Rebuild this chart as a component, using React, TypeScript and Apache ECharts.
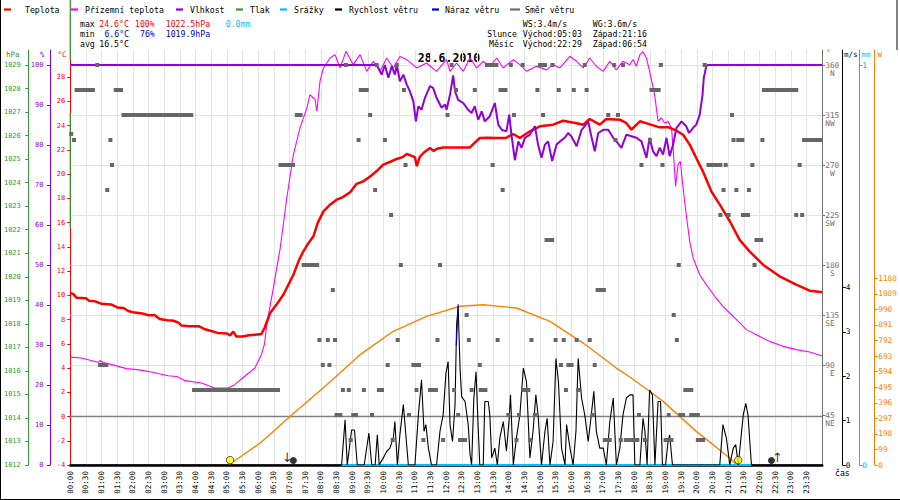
import React, { useEffect, useRef } from "react";
import * as echarts from "echarts";

const FONT = '"DejaVu Sans Mono", monospace';

// ---- axes ----
const X_MIN = 0;
const X_MAX = 24;
const X_STEP = 0.5;
const TEMP_RANGE = [-4, 30.24];
const HUM_RANGE = [0, 103.75];
const PRES_RANGE = [1012, 1029.64];
const DIR_RANGE = [0, 373.5];
const SPEED_RANGE = [0, 9.35];
const RAIN_RANGE = [0, 1.0375];
const RAD_RANGE = [0, 2641];

const TEMP_TICKS = [-4, -2, 0, 2, 4, 6, 8, 10, 12, 14, 16, 18, 20, 22, 24, 26, 28];
const HUM_TICKS = [0, 10, 20, 30, 40, 50, 60, 70, 80, 90, 100];
const PRES_TICKS = [1012, 1013, 1014, 1015, 1016, 1017, 1018, 1019, 1020, 1021, 1022, 1023, 1024, 1025, 1026, 1027, 1028, 1029];
const DIR_TICKS = [45, 90, 135, 180, 225, 270, 315, 360];
const DIR_NAMES = ["NE", "E", "SE", "S", "SW", "W", "NW", "N"];
const DIR_GRID = [90, 135, 180, 225, 270, 315, 360];
const SPEED_TICKS = [0, 1, 2, 3, 4];
const RAIN_TICKS = [0, 1];
const RAD_TICKS = [0, 99, 198, 297, 396, 495, 594, 693, 792, 891, 990, 1089, 1188];

// ---- data: [hour, value] ----
const teplota = [
  [0, 10.2], [0.1, 10.1], [0.2, 9.8], [0.5, 9.75], [0.6, 9.55], [0.8, 9.5], [1.0, 9.3], [1.3, 9.25], [1.5, 9.0],
  [1.7, 8.95], [1.85, 8.7], [2.0, 8.6], [2.3, 8.5], [2.5, 8.35], [2.7, 8.35], [2.85, 8.05], [3.1, 7.95], [3.3, 7.9],
  [3.45, 7.75], [3.55, 7.5], [3.8, 7.45], [4.1, 7.45], [4.3, 7.2], [4.5, 7.05], [4.7, 6.9], [5.0, 6.85], [5.1, 6.7],
  [5.2, 7.0], [5.3, 6.6], [5.5, 6.6], [5.7, 6.7], [5.9, 6.75], [6.1, 6.8], [6.2, 7.3], [6.3, 8.0], [6.38, 8.54],
  [6.6, 9.3], [6.8, 10.05], [7.12, 11.7], [7.3, 12.9], [7.44, 13.63], [7.6, 14.3], [7.76, 14.87], [7.9, 16.0],
  [8.08, 16.93], [8.3, 17.5], [8.5, 17.89], [8.7, 18.1], [8.93, 18.5], [9.14, 19.2], [9.35, 19.4], [9.57, 19.8],
  [9.8, 20.3], [9.99, 20.78], [10.2, 21.0], [10.42, 21.25], [10.6, 21.4], [10.74, 21.66], [10.9, 21.5], [11.0, 21.4],
  [11.06, 20.65], [11.15, 21.4], [11.27, 21.74], [11.48, 22.15], [11.6, 21.9], [11.7, 22.1], [11.9, 22.2],
  [12.44, 22.2], [12.76, 22.2], [12.86, 22.48], [13.07, 22.98], [13.3, 23.0], [13.6, 22.98], [13.9, 22.98],
  [14.14, 23.31], [14.35, 22.98], [14.67, 23.53], [14.99, 23.94], [15.41, 24.08], [15.73, 24.4], [16.16, 24.2],
  [16.37, 24.08], [16.58, 24.55], [16.9, 24.08], [17.11, 24.55], [17.54, 24.49], [17.75, 24.2], [17.91, 23.67],
  [18.18, 24.36], [18.5, 24.1], [18.81, 23.86], [19.1, 23.86], [19.35, 23.58], [19.56, 23.25], [19.77, 22.43],
  [19.98, 21.33], [20.19, 20.23], [20.46, 18.58], [20.73, 17.48], [21.05, 16.11], [21.36, 14.59], [21.68, 13.63],
  [22.11, 12.53], [22.64, 11.57], [23.17, 10.88], [23.6, 10.38], [24, 10.25],
];

const prizemni = [
  [0, 4.9], [0.36, 4.83], [0.7, 4.6], [0.89, 4.47], [0.95, 4.62], [1.05, 4.45], [1.32, 4.28], [1.8, 3.95], [2.2, 3.85],
  [2.59, 3.67], [3.12, 3.37], [3.4, 3.3], [3.66, 2.96], [4.19, 2.77], [4.61, 2.35], [5.04, 2.35], [5.25, 2.63],
  [5.57, 3.32], [5.89, 4.0], [6.1, 5.1], [6.2, 6.0], [6.27, 7.57], [6.48, 10.6], [6.7, 13.9], [6.91, 18.03],
  [7.12, 21.6], [7.33, 23.8], [7.55, 25.45], [7.65, 26.55], [7.75, 26.3], [7.81, 26.2], [7.87, 25.2], [7.97, 27.66],
  [8.08, 28.76], [8.29, 29.58], [8.45, 29.86], [8.61, 28.76], [8.8, 30.13], [9.03, 29.03], [9.25, 29.86], [9.46, 28.48],
  [9.67, 29.31], [9.89, 28.48], [10.1, 29.58], [10.31, 28.76], [10.52, 29.7], [10.74, 29.45], [11.06, 28.76],
  [11.37, 29.17], [11.69, 28.48], [12.01, 29.45], [12.12, 28.48], [12.33, 29.17], [12.54, 28.48], [12.76, 29.58],
  [12.97, 28.76], [13.18, 29.31], [13.39, 28.9], [13.61, 29.58], [13.82, 28.76], [14.14, 29.45], [14.35, 29.03],
  [14.56, 28.48], [14.88, 28.9], [15.2, 28.6], [15.41, 29.03], [15.63, 28.76], [15.94, 29.72], [16.16, 29.31],
  [16.37, 28.76], [16.58, 29.58], [16.79, 28.9], [17.01, 28.48], [17.22, 29.31], [17.43, 28.6], [17.64, 29.31],
  [17.86, 29.03], [17.96, 29.45], [18.07, 28.9], [18.18, 29.86], [18.28, 30.1], [18.39, 29.58], [18.49, 28.48],
  [18.65, 26.56], [18.76, 24.36], [18.87, 24.63], [18.97, 24.22], [19.08, 24.33], [19.19, 23.8], [19.24, 22.16],
  [19.32, 18.99], [19.4, 20.78], [19.47, 21.06], [19.56, 18.85], [19.66, 16.65], [19.77, 14.45], [19.88, 13.08],
  [20.09, 11.7], [20.3, 10.88], [20.57, 9.92], [20.83, 9.09], [21.05, 8.54], [21.37, 7.72], [21.58, 7.17],
  [21.9, 6.75], [22.32, 6.2], [22.75, 5.79], [23.18, 5.52], [23.6, 5.32], [24, 5.0],
];

const vlhkost = [
  [0, 100], [9.78, 100], [9.83, 99.3], [9.94, 97.6], [10.04, 100], [10.15, 96.8], [10.26, 99.7], [10.36, 97.6],
  [10.42, 100], [10.52, 95.9], [10.63, 97.6], [10.74, 95.1], [10.84, 93.4], [10.95, 90.9], [11.03, 85.9],
  [11.11, 89.7], [11.21, 88.8], [11.32, 91.8], [11.48, 94.7], [11.58, 94.3], [11.69, 91.8], [11.85, 89.3],
  [11.96, 90.1], [12.01, 88.8], [12.12, 92.6], [12.22, 97.4], [12.28, 93.4], [12.38, 91.3], [12.54, 90.5],
  [12.7, 88.8], [12.81, 88.0], [12.91, 89.7], [13.02, 86.3], [13.13, 88.4], [13.23, 85.9], [13.39, 87.2],
  [13.55, 90.5], [13.66, 85.1], [13.77, 83.8], [13.92, 83.4], [14.01, 87.6], [14.08, 82.6], [14.19, 76.2],
  [14.3, 80.9], [14.4, 79.3], [14.51, 81.8], [14.67, 82.6], [14.83, 84.7], [14.93, 80.1], [15.04, 76.8],
  [15.15, 80.1], [15.25, 80.9], [15.38, 76.0], [15.52, 80.1], [15.63, 80.9], [15.78, 81.8], [15.89, 83.0],
  [15.99, 82.2], [16.16, 79.7], [16.32, 83.8], [16.42, 84.7], [16.53, 85.9], [16.63, 82.2], [16.74, 78.4],
  [16.85, 83.0], [17.01, 83.8], [17.17, 83.8], [17.33, 81.8], [17.43, 80.9], [17.59, 79.3], [17.75, 82.6],
  [17.91, 82.2], [18.07, 81.8], [18.23, 80.9], [18.39, 76.8], [18.49, 81.8], [18.6, 78.4], [18.71, 77.2],
  [18.81, 79.3], [18.92, 77.6], [19.03, 81.8], [19.13, 77.2], [19.24, 80.1], [19.35, 84.3], [19.51, 85.9],
  [19.66, 84.7], [19.75, 83.0], [19.88, 84.3], [19.98, 85.1], [20.09, 87.6], [20.18, 92.6], [20.22, 96.8],
  [20.3, 99.7], [20.35, 100], [24, 100],
];

// pressure traces as recorded (vertical strokes at the start of the day)
const tlakA = [[0, 1031.76], [0, 1029.21]];
const tlakB = [[0, 1026.96], [0, 1022.07]];

const srazky = [[8.66, 0], [21.74, 0]];

const rychlost = [
  [0, 0], [8.66, 0], [8.77, 1.02], [8.84, 0], [8.98, 0.79], [9.07, 0.79], [9.16, 0], [9.38, 0], [9.53, 0.72],
  [9.62, 0], [9.73, 0], [9.8, 0.68], [9.86, 0], [9.99, 0.16], [10.1, 0.31], [10.2, 0.38], [10.31, 0.61],
  [10.36, 0.98], [10.44, 0], [10.52, 0.68], [10.63, 1.36], [10.7, 0.76], [10.79, 0], [11.0, 0], [11.11, 1.13],
  [11.21, 1.92], [11.29, 0.76], [11.35, 0.91], [11.43, 0.38], [11.53, 0], [11.69, 0], [11.8, 0.76], [11.9, 1.13],
  [11.99, 2.07], [12.06, 2.33], [12.12, 0.91], [12.2, 0.53], [12.28, 1.36], [12.33, 3.15], [12.38, 3.57],
  [12.44, 2.18], [12.49, 1.54], [12.6, 1.43], [12.7, 0.91], [12.76, 0.23], [12.81, 0], [12.88, 1.51], [12.95, 2.1],
  [13.02, 0.83], [13.07, 0], [13.18, 0], [13.23, 1.43], [13.34, 1.43], [13.39, 1.13], [13.45, 0.16], [13.55, 0.38],
  [13.63, 0], [13.71, 0.61], [13.82, 0.98], [13.92, 0.31], [14.01, 1.05], [14.05, 1.58], [14.14, 0], [14.24, 0.61],
  [14.35, 1.13], [14.46, 2.18], [14.56, 1.88], [14.67, 0.16], [14.77, 0.76], [14.86, 1.58], [14.93, 1.13],
  [15.04, 0], [15.15, 0.76], [15.22, 1.05], [15.31, 0], [15.41, 0.53], [15.5, 2.4], [15.58, 1.88], [15.68, 0.38],
  [15.79, 0], [15.84, 0.91], [15.95, 0.38], [16.05, 0], [16.14, 0.76], [16.21, 2.4], [16.32, 1.51], [16.42, 1.13],
  [16.53, 0.53], [16.63, 1.13], [16.71, 1.66], [16.79, 0.76], [16.9, 0.38], [17.01, 0.38], [17.11, 0],
  [17.22, 0.98], [17.33, 1.51], [17.43, 0], [17.54, 0.38], [17.64, 1.13], [17.75, 1.51], [17.86, 1.58],
  [17.96, 1.58], [18.02, 0], [18.18, 0], [18.28, 1.05], [18.34, 0.76], [18.41, 0], [18.49, 1.69], [18.58, 1.58],
  [18.66, 0], [18.76, 1.43], [18.84, 1.43], [18.9, 0], [19.0, 0], [19.08, 0.53], [19.13, 0.68], [19.22, 0],
  [20.73, 0], [20.83, 0.91], [20.94, 0.61], [21.05, 0], [21.16, 0.38], [21.24, 0.46], [21.32, 0], [21.48, 1.13],
  [21.56, 1.39], [21.63, 1.13], [21.74, 0], [24, 0],
];

const naraz = [[12.32, 2.7], [12.36, 3.3], [12.38, 3.62]];

const zareni = [
  [5.05, 0], [5.5, 62], [6.06, 140], [6.31, 183], [7.02, 310], [8.19, 511], [9.25, 702], [10.31, 851],
  [11.37, 946], [12.44, 1010], [13.18, 1020], [14.24, 999], [15.31, 914], [16.37, 776], [17.43, 617],
  [17.86, 560], [18.49, 469], [18.92, 405], [19.98, 214], [21.05, 45], [21.27, 0],
];

// wind direction runs: [from hour, to hour, degrees]
const smer = [
  [0.03, 0.03, 298], [0.12, 0.12, 292.5], [0.2, 0.72, 337.5], [0.86, 0.86, 360], [0.95, 1.15, 90], [1.18, 1.18, 247.5],
  [1.28, 1.28, 292.5], [1.33, 1.33, 270], [1.45, 1.62, 337.5], [1.7, 3.86, 315], [3.95, 6.63, 67.5],
  [6.71, 7.11, 270], [7.23, 7.35, 315], [7.45, 7.88, 180], [7.95, 7.95, 112.5], [8.06, 8.06, 90], [8.22, 8.22, 112.5],
  [8.27, 8.27, 90], [8.38, 8.38, 157.5], [8.45, 8.45, 112.5], [8.5, 8.62, 45], [8.7, 8.7, 67.5], [8.8, 8.8, 360],
  [8.89, 8.89, 67.5], [8.95, 8.95, 22.5], [9.03, 9.12, 45], [9.2, 9.2, 292.5], [9.27, 9.46, 337.5], [9.37, 9.37, 67.5],
  [9.57, 9.57, 315], [9.63, 9.63, 45], [9.73, 9.73, 247.5], [9.78, 9.78, 360], [9.85, 9.95, 67.5], [10.04, 10.04, 292.5],
  [10.13, 10.13, 90], [10.24, 10.24, 225], [10.29, 10.29, 22.5], [10.42, 10.42, 360], [10.45, 10.45, 112.5],
  [10.55, 10.55, 180], [10.65, 10.65, 337.5], [10.7, 10.7, 270], [10.81, 10.81, 45], [10.95, 11.13, 90],
  [11.05, 11.05, 67.5], [11.27, 11.27, 22.5], [11.48, 11.67, 67.5], [11.72, 11.72, 112.5], [11.8, 11.8, 180],
  [11.9, 11.9, 22.5], [12.04, 12.04, 315], [12.17, 12.17, 360], [12.25, 12.25, 67.5], [12.31, 12.31, 337.5],
  [12.38, 12.38, 45], [12.44, 12.6, 22.5], [12.65, 12.65, 135], [12.72, 12.72, 112.5], [12.81, 12.81, 67.5],
  [12.91, 12.91, 337.5], [13.07, 13.07, 90], [13.1, 13.25, 67.5], [13.3, 13.6, 360], [13.48, 13.48, 270],
  [13.64, 13.64, 112.5], [13.73, 13.89, 337.5], [13.8, 13.8, 247.5], [13.98, 13.98, 45], [14.06, 14.06, 360],
  [14.16, 14.16, 315], [14.24, 14.24, 22.5], [14.32, 14.32, 45], [14.44, 14.44, 360], [14.46, 14.62, 67.5],
  [14.67, 14.67, 22.5], [14.72, 14.72, 112.5], [14.83, 14.83, 45], [14.91, 14.91, 337.5], [14.99, 15.15, 360],
  [15.09, 15.09, 315], [15.2, 15.38, 202.5], [15.39, 15.39, 360], [15.49, 15.49, 112.5], [15.59, 15.59, 337.5],
  [15.66, 15.66, 90], [15.75, 15.75, 112.5], [15.82, 15.82, 67.5], [15.9, 16.0, 90], [16.07, 16.07, 337.5],
  [16.16, 16.16, 112.5], [16.21, 16.21, 67.5], [16.42, 16.42, 360], [16.48, 16.48, 337.5], [16.58, 16.58, 112.5],
  [16.67, 16.67, 45], [16.74, 16.74, 90], [16.83, 17.03, 157.5], [17.06, 17.22, 22.5], [17.17, 17.17, 315],
  [17.36, 17.36, 360], [17.4, 17.4, 292.5], [17.48, 17.48, 315], [17.57, 17.57, 22.5], [17.64, 17.64, 360],
  [17.73, 18.1, 22.5], [18.15, 18.15, 45], [18.23, 18.23, 270], [18.34, 18.34, 22.5], [18.5, 18.5, 292.5],
  [18.55, 18.78, 337.5], [18.85, 18.85, 360], [18.9, 18.9, 270], [19.0, 19.19, 22.5], [19.1, 19.1, 45],
  [19.26, 19.26, 135], [19.36, 19.36, 112.5], [19.42, 19.42, 180], [19.47, 19.56, 45], [19.63, 19.82, 67.5],
  [19.82, 20.03, 45], [20.03, 20.2, 22.5], [20.25, 20.25, 360], [20.37, 20.75, 270], [20.75, 20.75, 225],
  [20.85, 20.85, 247.5], [20.92, 20.92, 270], [21.01, 21.01, 225], [21.12, 21.12, 315], [21.17, 21.17, 292.5],
  [21.26, 21.26, 247.5], [21.32, 21.45, 292.5], [21.47, 21.63, 225], [21.66, 21.66, 247.5], [21.77, 21.77, 270],
  [21.84, 21.84, 180], [21.9, 22.05, 202.5], [22.09, 22.09, 292.5], [22.14, 23.17, 337.5], [23.17, 23.17, 225],
  [23.28, 23.28, 270], [23.36, 23.36, 225], [23.42, 23.95, 292.5],
];

const slunce = [[5.1, 0.11], [21.32, 0.11]];
const mesic = [[7.12, 0.1], [22.38, 0.1]];
const mesicZapad = [[6.92, 0.18]];
const mesicVychod = [[22.57, 0.18]];

// ---- legend / header texts ----
const LEGEND_NAMES = ["Teplota", "Přízemní teplota", "Vlhkost", "Tlak", "Srážky", "Rychlost větru", "Náraz větru", "Směr větru"];
const LEGEND_COLORS = ["#ff0000", "#ff00ff", "#9400d3", "#339933", "#00bfff", "#000000", "#0000cc", "#707070"];
const LEGEND_TEXT_X = [25, 85, 190, 250, 294, 349, 445, 525];
const LEGEND_DASH_X = [4, 71, 176, 236, 280, 335, 432, 510];
const LEGEND_DASH_W = [7, 7, 7, 7, 7, 7, 7, 10];

const pad2 = (n: number) => (n < 10 ? "0" + n : "" + n);

function buildOption() {
  const t = (x: number, y: number, text: string, fill: string, size = 8.2, weight = "normal", align = "left") => ({
    type: "text",
    x,
    y,
    silent: true,
    style: { text, fill, fontSize: size, fontFamily: FONT, fontWeight: weight, verticalAlign: "middle", align },
  });
  const ln = (x1: number, y1: number, x2: number, y2: number, stroke: string, w = 1) => ({
    type: "line",
    silent: true,
    shape: { x1, y1, x2, y2 },
    style: { stroke, lineWidth: w },
  });

  const graphics: any[] = [];
  LEGEND_NAMES.forEach((name, i) => {
    graphics.push(ln(LEGEND_DASH_X[i], 9.5, LEGEND_DASH_X[i] + LEGEND_DASH_W[i], 9.5, LEGEND_COLORS[i], 2.2));
    graphics.push(t(LEGEND_TEXT_X[i], 9.5, name, "#000"));
  });
  // stats
  graphics.push(t(80, 24, "max", "#000"), t(99.3, 24, "24.6°C", "#ff0000"), t(135, 24, "100%", "#ff0000"),
    t(165.7, 24, "1022.5hPa", "#ff0000"), t(225.7, 24, "0.0mm", "#00bfff"));
  graphics.push(t(80, 34, "min", "#000"), t(104.4, 34, "6.6°C", "#0000cc"), t(140, 34, "76%", "#0000cc"),
    t(165.7, 34, "1019.9hPa", "#0000cc"));
  graphics.push(t(80, 44, "avg", "#000"), t(99.3, 44, "16.5°C", "#000"));
  graphics.push(t(522.7, 24, "WS:3.4m/s", "#000"), t(592.7, 24, "WG:3.6m/s", "#000"));
  graphics.push(t(487.3, 34, "Slunce", "#000"), t(522.7, 34, "Východ:05:03", "#000"), t(592.7, 34, "Západ:21:16", "#000"));
  graphics.push(t(489, 44, "Měsíc", "#000"), t(522.7, 44, "Východ:22:29", "#000"), t(592.7, 44, "Západ:06:54", "#000"));
  graphics.push(t(449, 57.5, "28.6.2010", "#000", 11.5, "bold", "center"));
  // units
  graphics.push(t(6, 54, "hPa", "#339933", 7.5), t(40, 54, "%", "#9400d3", 7.5), t(57.5, 54, "°C", "#ff0000", 7.5));
  graphics.push(t(826, 52, "°", "#707070", 7.5), t(844, 54, "m/s", "#000", 7.5), t(861.5, 54, "mm", "#00bfff", 7.5),
    t(877.5, 54, "W", "#ff8000", 7.5));
  graphics.push(t(835, 473, "čas", "#000", 8.2));
  // frame
  graphics.push(ln(0.5, 0, 0.5, 500, "#000", 1), ln(0, 499.5, 900, 499.5, "#000", 1), ln(897, 0, 897, 50, "#000", 1));

  const yAx = (o: any) => ({
    type: "value",
    min: o.range[0],
    max: o.range[1],
    position: o.position,
    offset: o.offset,
    splitLine: { show: false },
    axisLine: { show: true, onZero: false, lineStyle: { color: o.color, width: 1 } },
    axisTick: { show: true, length: 3, lineStyle: { color: o.color }, customValues: o.ticks },
    axisLabel: {
      customValues: o.ticks,
      color: o.color,
      fontSize: o.fontSize || 7,
      fontFamily: FONT,
      margin: o.margin,
      formatter: o.formatter || ((v: number) => String(v)),
      lineHeight: o.lineHeight,
      align: o.align,
    },
  });

  return {
    animation: false,
    backgroundColor: "#ffffff",
    textStyle: { fontFamily: FONT },
    grid: { left: 70.3, right: 77.2, top: 50, bottom: 35, containLabel: false },
    xAxis: {
      type: "value",
      min: X_MIN,
      max: X_MAX,
      interval: X_STEP,
      axisLine: { show: true, onZero: false, lineStyle: { color: "#000", width: 2.5 } },
      axisTick: { show: false },
      splitLine: { show: true, lineStyle: { color: "#e3e3e3", width: 1 } },
      axisLabel: {
        rotate: 90,
        margin: 6,
        fontSize: 7.6,
        fontFamily: FONT,
        color: "#000",
        hideOverlap: false,
        formatter: (v: number) => {
          if (v >= 24) return "";
          const h = Math.floor(v);
          const m = Math.round((v - h) * 60);
          return pad2(h) + ":" + pad2(m);
        },
      },
    },
    yAxis: [
      yAx({ range: TEMP_RANGE, position: "left", offset: 0, color: "#ff0000", ticks: TEMP_TICKS, margin: 5 }),
      yAx({ range: HUM_RANGE, position: "left", offset: 20.3, color: "#9400d3", ticks: HUM_TICKS, margin: 6.5 }),
      yAx({ range: PRES_RANGE, position: "left", offset: 42, color: "#339933", ticks: PRES_TICKS, margin: 7.5 }),
      yAx({
        range: DIR_RANGE, position: "right", offset: 0, color: "#707070", ticks: DIR_TICKS, margin: 3,
        fontSize: 7.8, lineHeight: 8.3, align: "left",
        formatter: (v: number) => {
          const i = DIR_TICKS.indexOf(v);
          const nm = i >= 0 ? DIR_NAMES[i] : "";
          return "\n" + v + "\n" + (nm.length < 2 ? " " + nm : nm);
        },
      }),
      yAx({ range: SPEED_RANGE, position: "right", offset: 20.5, color: "#000000", ticks: SPEED_TICKS, margin: 3, fontSize: 7.8 }),
      yAx({ range: RAIN_RANGE, position: "right", offset: 37.5, color: "#00bfff", ticks: RAIN_TICKS, margin: 2.5, fontSize: 7.8 }),
      yAx({ range: RAD_RANGE, position: "right", offset: 52.5, color: "#ff8000", ticks: RAD_TICKS, margin: 3.5, fontSize: 7.8 }),
    ],
    graphic: graphics,
    series: [
      {
        name: "dirGrid",
        type: "line",
        yAxisIndex: 3,
        data: [[0, 0]],
        symbol: "none",
        lineStyle: { opacity: 0 },
        silent: true,
        markLine: {
          silent: true,
          z: 1,
          symbol: ["none", "none"],
          label: { show: false },
          lineStyle: { color: "#e3e3e3", width: 1, type: "solid" },
          data: DIR_GRID.map((v) => ({ yAxis: v })),
        },
      },
      {
        name: "zeroLine",
        type: "line",
        yAxisIndex: 0,
        data: [[0, 0]],
        symbol: "none",
        lineStyle: { opacity: 0 },
        silent: true,
        markLine: {
          silent: true,
          z: 1,
          symbol: ["none", "none"],
          label: { show: false },
          lineStyle: { color: "#808080", width: 1.3, type: "solid" },
          data: [{ yAxis: 0 }],
        },
      },
      { name: "Záření", type: "line", yAxisIndex: 6, data: zareni, symbol: "none", lineStyle: { color: "#ff8000", width: 1.4 }, z: 2 },
      { name: "Srážky", type: "line", yAxisIndex: 5, data: srazky, symbol: "none", lineStyle: { color: "#00bfff", width: 2 }, z: 2 },
      { name: "Rychlost větru", type: "line", yAxisIndex: 4, data: rychlost, symbol: "none", lineStyle: { color: "#000", width: 1.1 }, z: 3 },
      { name: "Náraz větru", type: "line", yAxisIndex: 4, data: naraz, symbol: "none", lineStyle: { color: "#0000cc", width: 1.2 }, z: 3 },
      { name: "Přízemní teplota", type: "line", yAxisIndex: 0, data: prizemni, symbol: "none", lineStyle: { color: "#ff00ff", width: 1.1 }, z: 3 },
      { name: "Teplota", type: "line", yAxisIndex: 0, data: teplota, symbol: "none", lineStyle: { color: "#ff0000", width: 2.5 }, z: 4 },
      { name: "Vlhkost", type: "line", yAxisIndex: 1, data: vlhkost, symbol: "none", lineStyle: { color: "#9400d3", width: 2 }, z: 5 },
      { name: "Tlak", type: "line", yAxisIndex: 2, data: tlakA, symbol: "none", clip: false, lineStyle: { color: "#339933", width: 1.3 }, z: 6 },
      { name: "Tlak", type: "line", yAxisIndex: 2, data: tlakB, symbol: "none", clip: false, lineStyle: { color: "#339933", width: 1.3 }, z: 6 },
      {
        name: "Směr větru",
        type: "custom",
        yAxisIndex: 3,
        data: smer,
        encode: { x: [0, 1], y: 2 },
        z: 7,
        renderItem: (params: any, api: any) => {
          const a = api.coord([api.value(0), api.value(2)]);
          const b = api.coord([api.value(1), api.value(2)]);
          return {
            type: "rect",
            shape: { x: a[0] - 2, y: a[1] - 2, width: b[0] - a[0] + 4, height: 4 },
            style: { fill: "#666666" },
          };
        },
      },
      {
        name: "Slunce",
        type: "scatter",
        yAxisIndex: 4,
        data: slunce,
        symbol: "circle",
        symbolSize: 7.5,
        itemStyle: { color: "#ffff00", borderColor: "#000", borderWidth: 0.8 },
        z: 8,
      },
      {
        name: "Měsíc",
        type: "scatter",
        yAxisIndex: 4,
        data: mesic,
        symbol: "circle",
        symbolSize: 7,
        itemStyle: { color: "#000" },
        z: 8,
      },
      {
        name: "Měsíc západ",
        type: "scatter",
        yAxisIndex: 4,
        data: mesicZapad,
        symbolSize: 1,
        itemStyle: { color: "rgba(0,0,0,0)" },
        label: { show: true, position: "inside", formatter: "↓", fontSize: 13, color: "#000", fontFamily: "DejaVu Sans" },
        z: 8,
      },
      {
        name: "Měsíc východ",
        type: "scatter",
        yAxisIndex: 4,
        data: mesicVychod,
        symbolSize: 1,
        itemStyle: { color: "rgba(0,0,0,0)" },
        label: { show: true, position: "inside", formatter: "↑", fontSize: 13, color: "#000", fontFamily: "DejaVu Sans" },
        z: 8,
      },
    ],
  };
}

export default function App() {
  const ref = useRef<HTMLDivElement>(null);
  useEffect(() => {
    if (!ref.current) return;
    const chart = echarts.init(ref.current, null, { renderer: "svg" });
    chart.setOption(buildOption() as any);
    return () => chart.dispose();
  }, []);
  return <div ref={ref} style={{ position: "absolute", left: 0, top: 0, width: 900, height: 500, background: "#fff" }} />;
}
